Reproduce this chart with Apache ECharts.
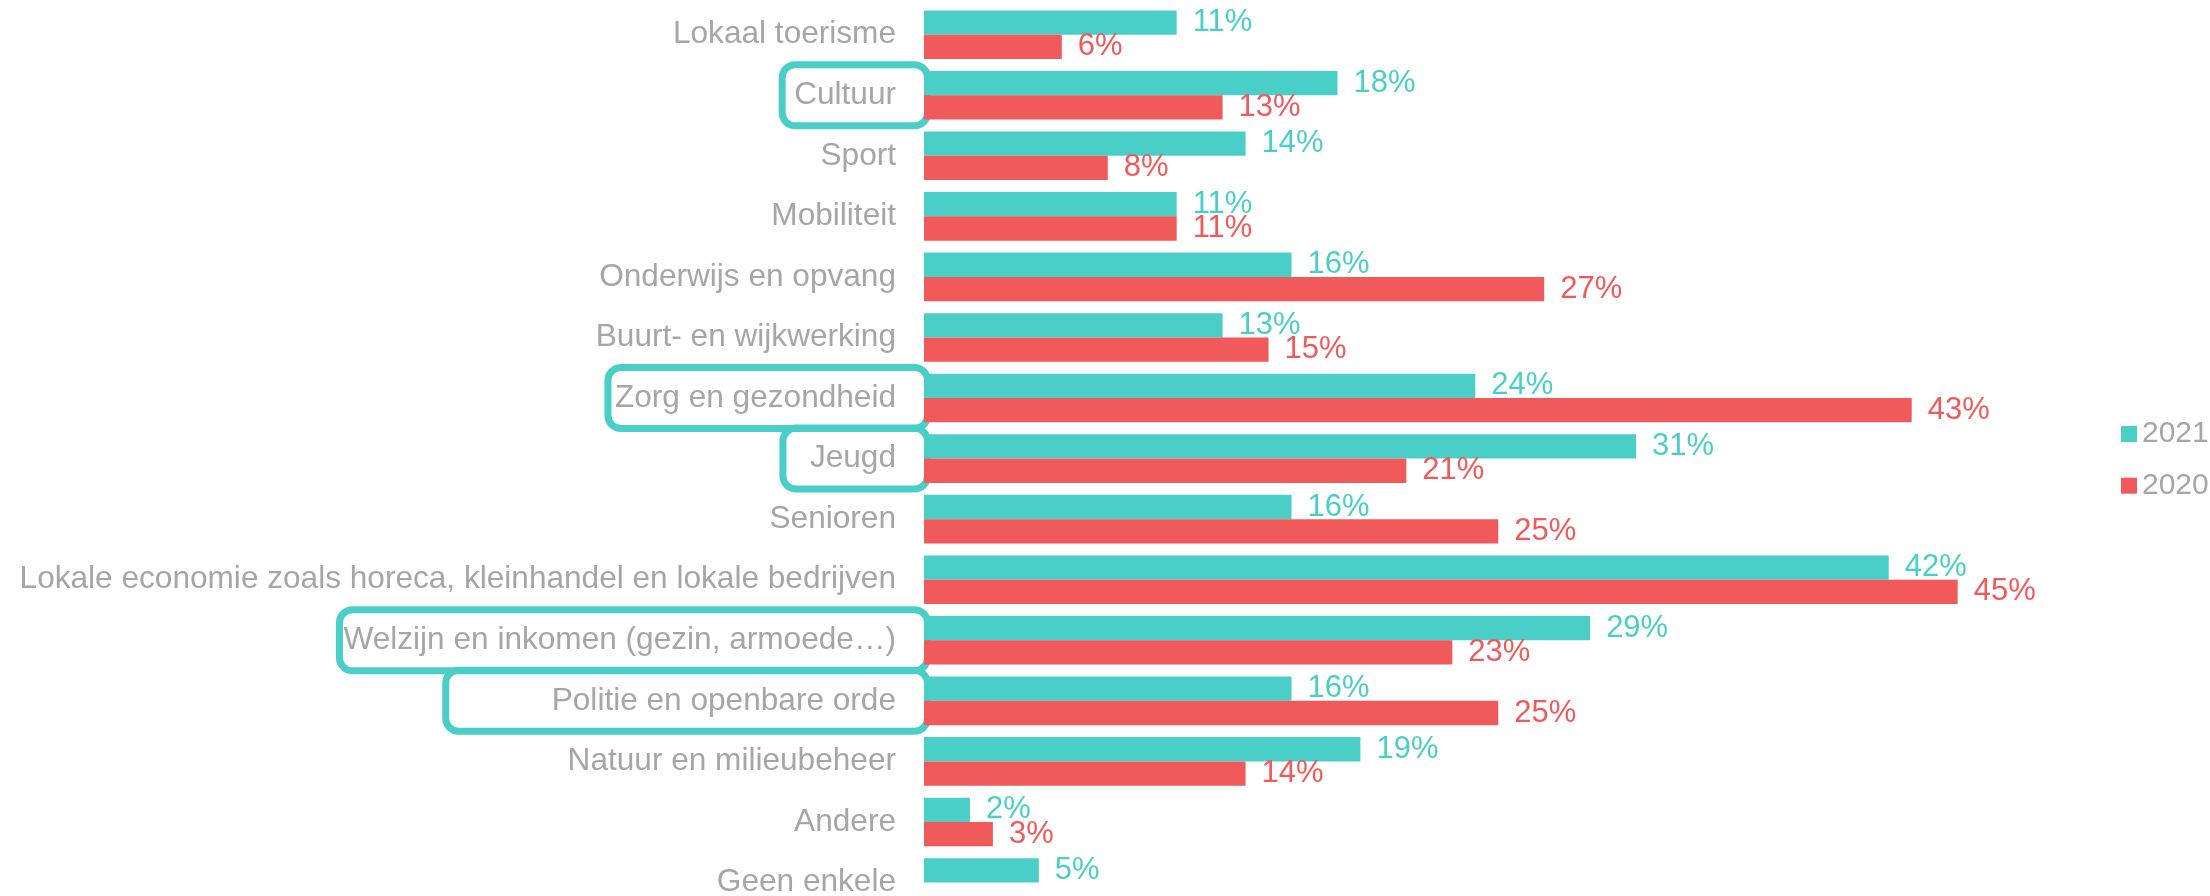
<!DOCTYPE html>
<html>
<head>
<meta charset="utf-8">
<script src="https://cdn.jsdelivr.net/npm/echarts@6/dist/echarts.min.js"></script>
<style>
  html, body { margin: 0; padding: 0; background: #ffffff; }
  #chart { width: 2210px; height: 896px; }
</style>
</head>
<body>
<div id="chart"></div>
<script>
// Domains, top to bottom
const categories = [
  'Lokaal toerisme',
  'Cultuur',
  'Sport',
  'Mobiliteit',
  'Onderwijs en opvang',
  'Buurt- en wijkwerking',
  'Zorg en gezondheid',
  'Jeugd',
  'Senioren',
  'Lokale economie zoals horeca, kleinhandel en lokale bedrijven',
  'Welzijn en inkomen (gezin, armoede…)',
  'Politie en openbare orde',
  'Natuur en milieubeheer',
  'Andere',
  'Geen enkele'
];

// Share of respondents (%)
const values2021 = [11, 18, 14, 11, 16, 13, 24, 31, 16, 42, 29, 16, 19, 2, 5];
const values2020 = [6, 13, 8, 11, 27, 15, 43, 21, 25, 45, 23, 25, 14, 3, null];

const seriesNames = ['2021', '2020'];

// Domains framed with an outline on the axis
const highlighted = [
  'Cultuur',
  'Zorg en gezondheid',
  'Jeugd',
  'Welzijn en inkomen (gezin, armoede…)',
  'Politie en openbare orde'
];

const CYAN = '#4acfc8';
const RED = '#f15a5a';
const GREY = '#a6a6a6';
const FONT = '"Liberation Sans", Arial, sans-serif';
const LABEL_SIZE = 31.6;

// Left padding of each outline box (extra room beside the text)
const boxLeftPad = [12, 7, 27, 4, 106];

const rich = {
  p: {
    fontFamily: FONT, fontSize: LABEL_SIZE, color: GREY,
    lineHeight: 34, padding: [0, 31.5, 0, 0]
  }
};
highlighted.forEach((name, i) => {
  rich['b' + i] = {
    fontFamily: FONT, fontSize: LABEL_SIZE, color: GREY,
    lineHeight: 34,
    padding: [14.5, 31.5, 14.5, boxLeftPad[i]],
    borderColor: CYAN, borderWidth: 7, borderRadius: 13
  };
});

const chart = echarts.init(document.getElementById('chart'), null, { renderer: 'canvas' });

const valueLabel = color => ({
  show: true,
  position: 'right',
  distance: 16,
  formatter: p => p.value == null ? '' : p.value + '%',
  fontFamily: FONT,
  fontSize: 31,
  color: color
});

chart.setOption({
  backgroundColor: '#ffffff',
  animation: false,
  textStyle: { fontFamily: FONT },
  legend: {
    orient: 'vertical',
    left: 2116,
    top: 414,
    itemWidth: 16,
    itemHeight: 16,
    itemGap: 21.7,
    icon: 'rect',
    data: seriesNames,
    textStyle: { fontFamily: FONT, fontSize: 30, color: GREY }
  },
  grid: {
    left: 924,
    width: 1148.5,
    top: 4.4,
    height: 908.4,
    containLabel: false,
    outerBoundsMode: 'none'
  },
  xAxis: {
    type: 'value',
    min: 0,
    max: 50,
    show: false
  },
  yAxis: {
    type: 'category',
    inverse: true,
    data: categories,
    axisLine: { show: false },
    axisTick: { show: false },
    splitLine: { show: false },
    axisLabel: {
      interval: 0,
      margin: -3.5,
      formatter: value => {
        const i = highlighted.indexOf(value);
        return i >= 0 ? '{b' + i + '|' + value + '}' : '{p|' + value + '}';
      },
      rich: rich
    }
  },
  series: [
    {
      name: seriesNames[0],
      type: 'bar',
      data: values2021,
      barWidth: 24.3,
      barGap: '0%',
      itemStyle: { color: CYAN },
      label: valueLabel(CYAN)
    },
    {
      name: seriesNames[1],
      type: 'bar',
      data: values2020,
      barWidth: 24.3,
      barGap: '0%',
      itemStyle: { color: RED },
      label: valueLabel(RED)
    }
  ]
});
</script>
</body>
</html>
